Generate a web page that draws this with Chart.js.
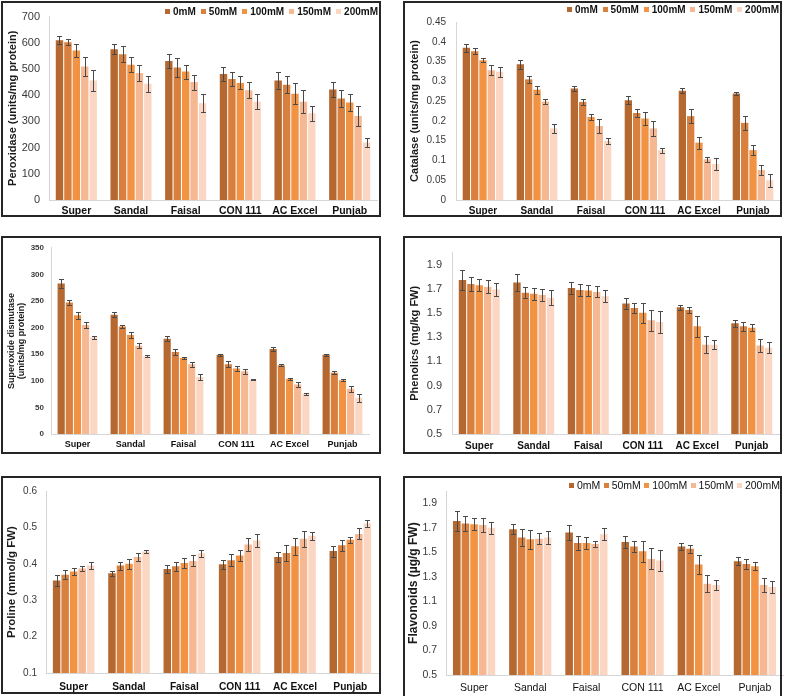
<!DOCTYPE html>
<html><head><meta charset="utf-8">
<script src="https://cdn.jsdelivr.net/npm/chart.js@4.4.1/dist/chart.umd.min.js"></script>
<style>
html,body{margin:0;padding:0;background:#fff;width:785px;height:696px;overflow:hidden;font-family:"Liberation Sans",Arial,sans-serif;}
.box{position:absolute;border:2px solid #262626;box-sizing:border-box;pointer-events:none;}
.legend{position:absolute;display:flex;align-items:center;color:#111;white-space:nowrap;justify-content:space-between;}
.legend span{display:flex;align-items:center;}
.legend i{display:inline-block;width:5px;height:5px;margin-right:3px;}
</style></head><body>
<div id="root" style="position:relative;width:785px;height:696px"></div>
<script>
const categories = ['Super','Sandal','Faisal','CON 111','AC Excel','Punjab'];
const seriesNames = ['0mM','50mM','100mM','150mM','200mM'];
const seriesColors = ['#B5682F','#D9803E','#F29343','#F6B892','#FAD6C3'];

// Peroxidase (units/mg protein)
const pod0 = [610, 575, 531, 481, 456, 422];
const pod50 = [602, 556, 506, 462, 440, 387];
const pod100 = [571, 516, 490, 447, 406, 372];
const pod150 = [510, 485, 450, 419, 375, 321];
const pod200 = [456, 444, 369, 375, 331, 219];
const podErr0 = [15, 19, 28, 28, 33, 28];
const podErr50 = [12, 30, 35, 28, 32, 32];
const podErr100 = [25, 28, 27, 25, 41, 32];
const podErr150 = [35, 32, 29, 30, 44, 38];
const podErr200 = [40, 30, 35, 28, 28, 18];
const podTicks = [0, 100, 200, 300, 400, 500, 600, 700];

// Catalase (units/mg protein)
const cat0 = [0.385, 0.343, 0.282, 0.252, 0.276, 0.269];
const cat50 = [0.376, 0.305, 0.248, 0.220, 0.212, 0.195];
const cat100 = [0.353, 0.279, 0.210, 0.206, 0.145, 0.126];
const cat150 = [0.328, 0.249, 0.187, 0.181, 0.103, 0.076];
const cat200 = [0.324, 0.181, 0.149, 0.126, 0.091, 0.050];
const catErr0 = [0.010, 0.012, 0.006, 0.010, 0.006, 0.004];
const catErr50 = [0.008, 0.008, 0.008, 0.011, 0.017, 0.017];
const catErr100 = [0.005, 0.010, 0.007, 0.017, 0.015, 0.013];
const catErr150 = [0.013, 0.007, 0.017, 0.019, 0.006, 0.012];
const catErr200 = [0.012, 0.012, 0.008, 0.006, 0.014, 0.016];
const catTicks = [0, 0.05, 0.1, 0.15, 0.2, 0.25, 0.3, 0.35, 0.4, 0.45];

// Superoxide dismutase (units/mg protein)
const sod0 = [283, 224, 179, 149, 160, 149];
const sod50 = [247, 202, 154, 131, 129, 115];
const sod100 = [223, 186, 143, 123, 104, 101];
const sod150 = [205, 166, 131, 118, 93, 85];
const sod200 = [182, 146, 107, 102, 76, 68];
const sodErr0 = [8, 5, 5, 2, 4, 1.5];
const sodErr50 = [5, 2, 5, 6, 2, 3];
const sodErr100 = [6, 5, 2, 4, 2, 2];
const sodErr150 = [6, 5, 5, 5, 5, 6];
const sodErr200 = [3, 2, 6, 1, 2, 8];
const sodTicks = [0, 50, 100, 150, 200, 250, 300, 350];

// Phenolics (mg/kg FW)
const phe0 = [1.774, 1.753, 1.707, 1.579, 1.548, 1.416];
const phe50 = [1.740, 1.667, 1.690, 1.542, 1.526, 1.392];
const phe100 = [1.729, 1.659, 1.686, 1.502, 1.392, 1.379];
const phe150 = [1.716, 1.649, 1.675, 1.440, 1.237, 1.232];
const phe200 = [1.694, 1.627, 1.640, 1.427, 1.237, 1.213];
const pheErr0 = [0.080, 0.070, 0.046, 0.048, 0.020, 0.030];
const pheErr50 = [0.060, 0.045, 0.048, 0.042, 0.027, 0.038];
const pheErr100 = [0.050, 0.048, 0.043, 0.085, 0.086, 0.030];
const pheErr150 = [0.054, 0.050, 0.045, 0.086, 0.070, 0.056];
const pheErr200 = [0.054, 0.060, 0.048, 0.090, 0.038, 0.046];
const pheTicks = [0.5, 0.7, 0.9, 1.1, 1.3, 1.5, 1.7, 1.9];

// Proline (mmol/g FW)
const pro0 = [0.354, 0.374, 0.386, 0.399, 0.419, 0.435];
const pro50 = [0.370, 0.395, 0.393, 0.410, 0.430, 0.451];
const pro100 = [0.379, 0.400, 0.402, 0.423, 0.448, 0.466];
const pro150 = [0.387, 0.419, 0.408, 0.453, 0.469, 0.482];
const pro200 = [0.395, 0.434, 0.429, 0.464, 0.477, 0.511];
const proErr0 = [0.014, 0.007, 0.012, 0.012, 0.013, 0.015];
const proErr50 = [0.013, 0.011, 0.013, 0.016, 0.023, 0.015];
const proErr100 = [0.010, 0.013, 0.014, 0.016, 0.023, 0.009];
const proErr150 = [0.006, 0.010, 0.015, 0.018, 0.022, 0.015];
const proErr200 = [0.010, 0.003, 0.009, 0.018, 0.011, 0.009];
const proTicks = [0.1, 0.2, 0.3, 0.4, 0.5, 0.6];

// Flavonoids (µg/g FW)
const fla0 = [1.757, 1.690, 1.663, 1.585, 1.550, 1.429];
const fla50 = [1.738, 1.623, 1.577, 1.550, 1.531, 1.407];
const fla100 = [1.730, 1.609, 1.577, 1.510, 1.402, 1.389];
const fla150 = [1.725, 1.612, 1.569, 1.448, 1.246, 1.235];
const fla200 = [1.703, 1.623, 1.650, 1.434, 1.235, 1.219];
const flaErr0 = [0.080, 0.040, 0.062, 0.050, 0.027, 0.032];
const flaErr50 = [0.060, 0.067, 0.054, 0.046, 0.032, 0.040];
const flaErr100 = [0.049, 0.078, 0.046, 0.086, 0.080, 0.032];
const flaErr150 = [0.060, 0.046, 0.027, 0.086, 0.070, 0.059];
const flaErr200 = [0.050, 0.056, 0.048, 0.083, 0.043, 0.048];
const flaTicks = [0.5, 0.7, 0.9, 1.1, 1.3, 1.5, 1.7, 1.9];

const FONT = '"Liberation Sans", Arial, sans-serif';
const root = document.getElementById('root');

const errorBarPlugin = {
  id: 'errorBars',
  afterDatasetsDraw(chart) {
    const ctx = chart.ctx, y = chart.scales.y;
    ctx.save();
    ctx.strokeStyle = '#4a4a4a';
    ctx.lineWidth = 1;
    chart.data.datasets.forEach((ds, di) => {
      const meta = chart.getDatasetMeta(di);
      meta.data.forEach((bar, i) => {
        const v = ds.data[i], e = ds.errors[i];
        const x = Math.round(bar.x) + 0.5;
        const yt = Math.round(y.getPixelForValue(v + e)) + 0.5;
        const yb = Math.round(y.getPixelForValue(v - e)) + 0.5;
        ctx.beginPath();
        ctx.moveTo(x, yt); ctx.lineTo(x, yb);
        ctx.moveTo(x - 2.5, yt); ctx.lineTo(x + 2.5, yt);
        ctx.moveTo(x - 2.5, yb); ctx.lineTo(x + 2.5, yb);
        ctx.stroke();
      });
    });
    ctx.restore();
  }
};

function makePanel(cfg) {
  const [bL, bT, bR, bB] = cfg.box;
  const cR = cfg.canvasRight || bR, cB = cfg.canvasBottom || bB;
  const cv = document.createElement('canvas');
  cv.width = cR - bL; cv.height = cB - bT;
  cv.style.cssText = `position:absolute;left:${bL}px;top:${bT}px;width:${cR - bL}px;height:${cB - bT}px`;
  root.appendChild(cv);
  const box = document.createElement('div');
  box.className = 'box';
  box.style.left = bL + 'px'; box.style.top = bT + 'px';
  box.style.width = (bR - bL) + 'px'; box.style.height = (bB - bT) + 'px';
  root.appendChild(box);
  const [pL, pT, pR, pB] = cfg.plot;
  new Chart(cv, {
    type: 'bar',
    data: {
      labels: categories,
      datasets: seriesNames.map((n, i) => ({
        label: n, data: cfg.values[i], errors: cfg.errors[i],
        backgroundColor: seriesColors[i], borderWidth: 0,
        categoryPercentage: 0.77, barPercentage: 0.88
      }))
    },
    options: {
      responsive: false, animation: false, devicePixelRatio: 1,
      layout: { padding: { left: 0, top: pT - bT, right: cR - pR, bottom: 0 } },
      plugins: { legend: { display: false }, tooltip: { enabled: false } },
      scales: {
        x: {
          grid: { display: false, drawTicks: false },
          border: { display: true, color: '#d6d6d6' },
          ticks: { font: cfg.xFont, color: '#111', padding: cfg.xPad, maxRotation: 0, autoSkip: false },
          afterFit: s => { s.height = cB - pB; }
        },
        y: {
          min: cfg.yMin, max: cfg.yMax,
          afterBuildTicks: a => { a.ticks = cfg.yTicks.map(v => ({ value: v })); },
          grid: { display: false, drawTicks: false },
          border: { display: true, color: '#d6d6d6' },
          ticks: { font: cfg.tickFont, color: '#3a3a3a', padding: cfg.tickPad,
                   callback: v => String(Math.round(v * 1000) / 1000) },
          title: { display: true, text: cfg.yTitle, font: cfg.titleFont, color: '#1a1a1a',
                   padding: { top: cfg.titlePad, bottom: 0 } },
          afterFit: s => { s.width = pL - bL; }
        }
      }
    },
    plugins: [errorBarPlugin]
  });
}

function makeLegend(L, R, cy, weight, size) {
  const d = document.createElement('div');
  d.className = 'legend';
  d.style.left = L + 'px'; d.style.width = (R - L) + 'px';
  d.style.top = (cy - 7) + 'px'; d.style.height = '14px';
  d.style.fontWeight = weight; d.style.fontSize = size + 'px';
  seriesNames.forEach((n, i) => {
    const s = document.createElement('span');
    const sq = document.createElement('i');
    sq.style.background = seriesColors[i];
    s.appendChild(sq);
    s.appendChild(document.createTextNode(n));
    d.appendChild(s);
  });
  root.appendChild(d);
}

makePanel({
  box: [1, 1, 381, 217], plot: [49, 13, 377, 200],
  yMin: 0, yMax: 700, yTicks: podTicks,
  values: [pod0, pod50, pod100, pod150, pod200],
  errors: [podErr0, podErr50, podErr100, podErr150, podErr200],
  yTitle: 'Peroxidase (units/mg protein)', titleFont: { family: FONT, size: 11, weight: 'bold' }, titlePad: 5,
  tickFont: { family: FONT, size: 11 }, tickPad: 9,
  xFont: { family: FONT, size: 10.5, weight: 'bold' }, xPad: 5
});
makePanel({
  box: [403, 1, 782, 217], plot: [456, 22, 780, 200],
  yMin: 0, yMax: 0.45, yTicks: catTicks,
  values: [cat0, cat50, cat100, cat150, cat200],
  errors: [catErr0, catErr50, catErr100, catErr150, catErr200],
  yTitle: 'Catalase (units/mg protein)', titleFont: { family: FONT, size: 11, weight: 'bold' }, titlePad: 5,
  tickFont: { family: FONT, size: 10 }, tickPad: 10,
  xFont: { family: FONT, size: 10, weight: 'bold' }, xPad: 5
});
makePanel({
  box: [1, 236, 381, 454], plot: [51, 247, 369, 434],
  yMin: 0, yMax: 350, yTicks: sodTicks,
  values: [sod0, sod50, sod100, sod150, sod200],
  errors: [sodErr0, sodErr50, sodErr100, sodErr150, sodErr200],
  yTitle: ['Superoxide dismutase', '(units/mg protein)'], titleFont: { family: FONT, size: 9, weight: 'bold', lineHeight: 1.1 }, titlePad: 5.5,
  tickFont: { family: FONT, size: 8, weight: 'bold' }, tickPad: 7,
  xFont: { family: FONT, size: 9, weight: 'bold' }, xPad: 5.5
});
makePanel({
  box: [403, 236, 782, 454], plot: [452, 246.5, 779, 434],
  yMin: 0.5, yMax: 2.0, yTicks: pheTicks,
  values: [phe0, phe50, phe100, phe150, phe200],
  errors: [pheErr0, pheErr50, pheErr100, pheErr150, pheErr200],
  yTitle: 'Phenolics (mg/kg FW)', titleFont: { family: FONT, size: 11, weight: 'bold' }, titlePad: 5.4,
  tickFont: { family: FONT, size: 11 }, tickPad: 10,
  xFont: { family: FONT, size: 10, weight: 'bold' }, xPad: 6
});
makePanel({
  box: [1, 476, 381, 694], plot: [46, 487, 378, 673],
  yMin: 0.1, yMax: 0.6, yTicks: proTicks,
  values: [pro0, pro50, pro100, pro150, pro200],
  errors: [proErr0, proErr50, proErr100, proErr150, proErr200],
  yTitle: 'Proline (mmol/g FW)', titleFont: { family: FONT, size: 11.5, weight: 'bold' }, titlePad: 3.6,
  tickFont: { family: FONT, size: 10 }, tickPad: 9,
  xFont: { family: FONT, size: 10.2, weight: 'bold' }, xPad: 8
});
makePanel({
  box: [403, 476, 782, 699], canvasRight: 785, canvasBottom: 696, plot: [446, 489, 783, 675],
  yMin: 0.5, yMax: 2.0, yTicks: flaTicks,
  values: [fla0, fla50, fla100, fla150, fla200],
  errors: [flaErr0, flaErr50, flaErr100, flaErr150, flaErr200],
  yTitle: 'Flavonoids (µg/g FW)', titleFont: { family: FONT, size: 12, weight: 'bold' }, titlePad: 3.8,
  tickFont: { family: FONT, size: 10.5 }, tickPad: 9,
  xFont: { family: FONT, size: 10.5 }, xPad: 6.5
});

makeLegend(165, 378, 11, 'bold', 10);
makeLegend(567, 779, 9, 'bold', 10);
makeLegend(569, 780, 485, 'normal', 10.5);
</script>
</body></html>
